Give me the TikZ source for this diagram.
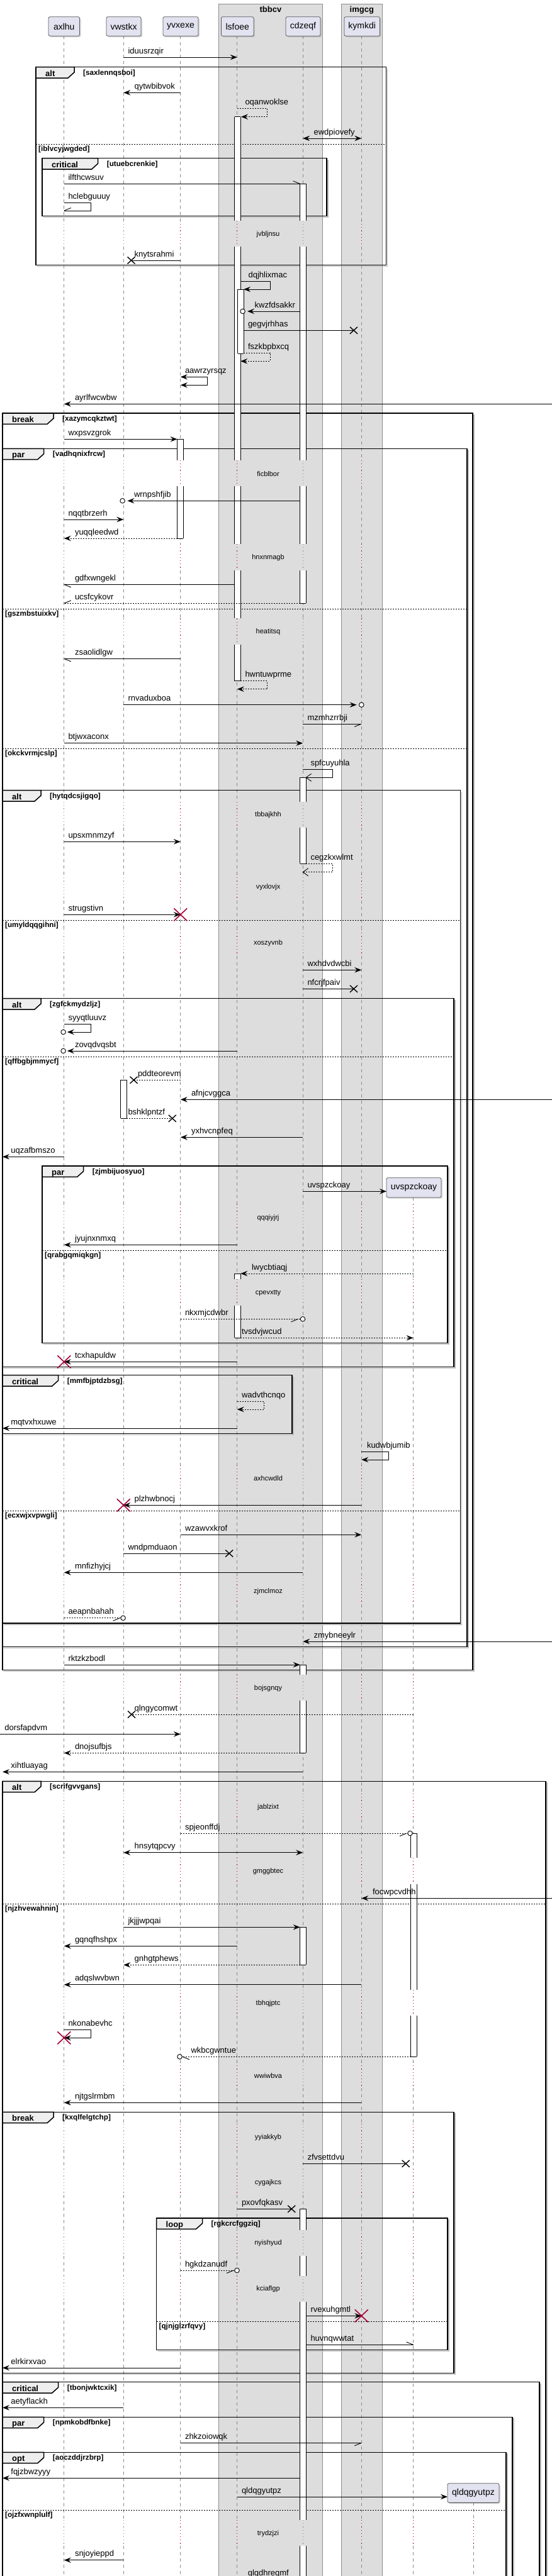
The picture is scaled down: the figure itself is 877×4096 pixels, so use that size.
\documentclass[tikz,border=0pt]{standalone}
\usepackage{fontspec}
\setmainfont{Liberation Sans}
\usetikzlibrary{arrows.meta,shadows}
\definecolor{partfill}{HTML}{E2E2F0}
\definecolor{grpfill}{HTML}{DDDDDD}
\definecolor{tabfill}{HTML}{EEEEEE}
\definecolor{crim}{HTML}{A80036}
\definecolor{lifegray}{HTML}{8A8A8A}
\newcommand\mf{\fontsize{13}{15}\selectfont}
\newcommand\dlf{\fontsize{11}{13}\selectfont}
\newcommand\pf{\fontsize{14}{16}\selectfont}
\newcommand\kindf{\fontsize{13}{15}\selectfont\bfseries}
\newcommand\guardf{\fontsize{11.7}{13}\selectfont\bfseries}
\tikzset{
  lbl/.style={font=\mf, anchor=base west, inner sep=0pt, outer sep=0pt},
  dlbl/.style={font=\dlf, anchor=center, inner sep=0pt},
  msgl/.style={line width=0.9pt, draw=black},
  retl/.style={msgl, dash pattern=on 2pt off 2pt},
  hd/.style={-{Stealth[length=11pt,width=8.5pt,inset=4pt]}},
  hdb/.style={{Stealth[length=11pt,width=8.5pt,inset=4pt]}-{Stealth[length=11pt,width=8.5pt,inset=4pt]}},
  lifel/.style={draw=lifegray, line width=0.7pt, dash pattern=on 5pt off 5pt},
  lifedot/.style={line width=0.8pt, dash pattern=on 1.2pt off 4pt},
  actl/.style={line width=0.8pt, draw=black},
  part/.style={draw=black!65, fill=partfill, rounded corners=2.5pt, line width=0.8pt, font=\pf, inner sep=0pt, minimum height=30.6pt, drop shadow={shadow xshift=2pt, shadow yshift=-2pt, opacity=0.3}},
  kindl/.style={font=\kindf, anchor=base west, inner sep=0pt},
  guardl/.style={font=\guardf, anchor=base west, inner sep=0pt},
  grptitle/.style={font=\kindf, anchor=base, inner sep=0pt},
}
\newcount\labcnt
\newcommand\lab[3]{\global\advance\labcnt by 1\relax\node[lbl] (lab\the\labcnt) at (#1,#2-6) {#3};}
\newcommand\halfu[3]{\draw[msgl] (#1,#2) -- ++(#3*11,-4.5);}
\newcommand\halfd[3]{\draw[msgl] (#1,#2) -- ++(#3*11,4.5);}
\newcommand\openhd[2]{\draw[msgl] (#1+8.5,#2-6) -- (#1,#2) -- (#1+8.5,#2+6);}
\newcommand\bx[2]{\draw[line width=1.4pt] (#1-6,#2-5.5) -- (#1+6,#2+5.5) (#1-6,#2+5.5) -- (#1+6,#2-5.5);}
\newcommand\rx[2]{\draw[crim,line width=1.6pt] (#1-10.5,#2-10) -- (#1+10.5,#2+10) (#1-10.5,#2+10) -- (#1+10.5,#2-10);}
\newcommand\cir[2]{\draw[msgl,fill=white] (#1,#2) circle[radius=3.8pt];}
\newcommand\actseg[5]{%
  \fill[white] (#1,#2) rectangle (#1+9.5,#3);
  \draw[actl] (#1,#2) -- (#1,#3) (#1+9.5,#2) -- (#1+9.5,#3);
  \ifnum#4=1 \draw[actl] (#1,#2) -- (#1+9.5,#2);\fi
  \ifnum#5=1 \draw[actl] (#1,#3) -- (#1+9.5,#3);\fi
}
\newcommand\frm[7]{%
  \draw[gray!55, line width=1.5pt] (#3+2,#2+2) -- (#3+2,#4+2) -- (#1+2,#4+2);
  \draw[black, line width=1.5pt] (#1,#2) rectangle (#3,#4);
  \draw[black, line width=1.5pt, fill=tabfill] (#1,#2) -- (#1+#6,#2) -- (#1+#6,#2+8.3) -- (#1+#6-10,#2+17.3) -- (#1,#2+17.3) -- cycle;
  \node[kindl] at (#1+15,#2+14.5) {#5};
  \node[guardl] at (#1+#6+14,#2+12.5) {[#7]};
}
\newcommand\sepl[4]{%
  \draw[black, line width=0.9pt, dash pattern=on 2pt off 2pt] (#1,#3) -- (#2,#3);
  \node[guardl] at (#1+4,#3+11) {[#4]};
}
\def\delaylist{350.8/392.3,731.7/773.3,865/906.7,983.3/1025,1275/1316,1390/1431.7,1478/1520,1915/1957,2034/2075.7,2329.5/2371,2509/2551,2663/2704,2852/2893.3,2954/2995.7,3164/3205,3279/3320.3,3377/3418,3449/3490,3546/3587,3619/3660,4007/4048}
\newcommand\lifeline[3]{%
  \xdef\lastY{#2}%
  \foreach \a/\b in \delaylist {%
    \ifdim\a pt>#2pt
      \draw[lifel] (#1,\lastY) -- (#1,\a);
      \draw[lifedot,#3] (#1,\a) -- (#1,\b);
      \xdef\lastY{\b}%
    \fi
  }%
  \draw[lifel] (#1,\lastY) -- (#1,4100);
}
\begin{document}
\begin{tikzpicture}[x=1pt,y=-1pt]
\useasboundingbox (0,0) rectangle (877,4096);
\clip (0,0) rectangle (877,4096);
\fill[white] (0,0) rectangle (877,4096);
% box groups
\draw[fill=grpfill, draw=black!45, line width=0.6pt] (347.4,6) rectangle (512.7,4120);
\draw[fill=grpfill, draw=black!45, line width=0.6pt] (542.5,6) rectangle (607.1,4120);
\node[grptitle] (g1) at (430,19.5) {tbbcv};
\node[grptitle] (g2) at (574.8,19.5) {imgcg};
% lifelines
\lifeline{101.8}{57.3}{lifegray}
\lifeline{196.3}{57.3}{lifegray}
\lifeline{286.8}{57.3}{crim}
\lifeline{376.8}{57.3}{crim}
\lifeline{481.2}{57.3}{lifegray}
\lifeline{574.3}{57.3}{crim}
\lifeline{656.6}{1904}{crim}
\lifeline{752.4}{3979.3}{crim}
% participants
\node[part, minimum width=49.5pt] (axlhu) at (101.8,42) {axlhu};
\node[part, minimum width=55pt] (vwstkx) at (196.5,42) {vwstkx};
\node[part, minimum width=56pt] (yvxexe) at (287,42) {yvxexe};
\node[part, minimum width=51.5pt] (lsfoee) at (377.2,42) {lsfoee};
\node[part, minimum width=55pt] (cdzeqf) at (481.5,42) {cdzeqf};
\node[part, minimum width=56.5pt] (kymkdi) at (575.2,42) {kymkdi};
\node[part, minimum width=87pt, minimum height=31.3pt] (uvsp) at (657.5,1888.3) {uvspzckoay};
\node[part, minimum width=82pt] (qldq) at (752,3964) {qldqgyutpz};
% frames
\frm{57}{106.7}{613.3}{421.7}{alt}{61}{saxlennqsboi}
\sepl{57}{613.3}{229.3}{iblvcyjwgded}
\frm{67}{251.7}{519}{343.3}{critical}{88.7}{utuebcrenkie}
\frm{4}{657}{751}{2655.3}{break}{81}{xazymcqkztwt}
\frm{4}{713.3}{742}{2618.3}{par}{65.7}{vadhqnixfrcw}
\sepl{4}{742}{968.3}{gszmbstuixkv}
\sepl{4}{742}{1190.3}{okckvrmjcslp}
\frm{4}{1256.7}{731.3}{2581}{alt}{61}{hytqdcsjigqo}
\sepl{4}{731.3}{1463.3}{umyldqqgihni}
\sepl{4}{731.3}{2402.3}{ecxwjxvpwgli}
\frm{4}{1587.7}{721}{2173.3}{alt}{61}{zgfckmydzljz}
\sepl{4}{721}{1680.7}{qffbgbjmmycf}
\frm{67}{1854}{711}{2135.7}{par}{65.7}{zjmbijuosyuo}
\sepl{67}{711}{1988.3}{qrabgqmiqkgn}
\frm{4}{2186.7}{464}{2279.3}{critical}{88.7}{mmfbjptdzbsg}
\frm{4}{2832.3}{866.8}{4120}{alt}{61}{scrifgvvgans}
\sepl{4}{866.8}{3027.3}{njzhvewahnin}
\frm{4}{3358.3}{721}{3773.3}{break}{81}{kxqlfelgtchp}
\frm{248.5}{3527}{711}{3736.7}{loop}{73}{rgkcrcfggziq}
\sepl{248.5}{711}{3691.3}{qjnjglzrfqvy}
\frm{4}{3787.7}{857}{4120}{critical}{88.7}{tbonjwktcxik}
\frm{4}{3843.3}{814}{4120}{par}{65.7}{npmkobdfbnke}
\frm{4}{3899.3}{804}{4120}{opt}{65.7}{aoczddjrzbrp}
\sepl{4}{804}{3991}{ojzfxwnplulf}
% activations
\actseg{372.7}{185.7}{350.8}{1}{0}
\actseg{372.7}{392.3}{731.7}{0}{0}
\actseg{372.7}{773.3}{865}{0}{0}
\actseg{372.7}{906.7}{983.3}{0}{0}
\actseg{372.7}{1025}{1082.7}{0}{1}
\actseg{377.6}{460}{562.3}{1}{1}
\actseg{476.7}{292.3}{350.8}{1}{0}
\actseg{476.7}{392.3}{731.7}{0}{0}
\actseg{476.7}{773.3}{865}{0}{0}
\actseg{476.7}{906.7}{959.3}{0}{1}
\actseg{281.6}{698.3}{731.7}{1}{0}
\actseg{281.6}{773.3}{856}{0}{1}
\actseg{476.7}{1236.3}{1275}{1}{0}
\actseg{476.7}{1316}{1373.3}{0}{1}
\actseg{191.7}{1717.3}{1778.3}{1}{1}
\actseg{372.7}{2025}{2034}{1}{0}
\actseg{372.7}{2075.7}{2127.3}{0}{1}
\actseg{476.7}{2647}{2663}{1}{0}
\actseg{476.7}{2704}{2787.3}{0}{1}
\actseg{652.6}{2915}{2954}{1}{0}
\actseg{652.6}{2995.7}{3164}{0}{0}
\actseg{652.6}{3205}{3270.3}{0}{1}
\actseg{476.7}{3064.3}{3124.3}{1}{1}
\actseg{476.7}{3512.3}{3546}{1}{0}
\actseg{476.7}{3587}{3619}{0}{0}
\actseg{476.7}{3660}{4007}{0}{0}
\actseg{476.7}{4048}{4110}{0}{0}
% messages
\draw[msgl,hd] (196.3,91) -- (376.8,91); \lab{203.5}{91}{iduusrzqir}
\draw[msgl,hd] (286.8,147.3) -- (196.3,147.3); \lab{213.6}{147.3}{qytwbibvok}
\draw[retl,hd] (376.8,172.3) -- (424.4,172.3) -- (424.4,185.7) -- (383,185.7); \lab{389.5}{172.3}{oqanwoklse}
\draw[msgl,hdb] (481.2,220) -- (574.3,220); \lab{498.6}{220}{ewdpiovefy}
\draw[msgl] (101.8,292.3) -- (476.7,292.3); \halfu{476.7}{292.3}{-1} \lab{108.5}{292.3}{ilfthcwsuv}
\draw[msgl] (101.8,322.3) -- (144,322.3) -- (144,335) -- (101.8,335); \halfu{101.8}{335}{1} \lab{108.5}{322.3}{hclebguuuy}
\draw[msgl] (286.8,414) -- (208.5,414); \bx{208.5}{414} \lab{213.6}{414}{knytsrahmi}
\draw[msgl,hd] (382.2,447.3) -- (429,447.3) -- (429,460) -- (387.1,460); \lab{394.6}{447.3}{dqjhlixmac}
\draw[msgl,hd] (476.7,495) -- (393,495); \cir{385.6}{495} \lab{404.7}{495}{kwzfdsakkr}
\draw[msgl] (387.1,525.3) -- (562,525.3); \bx{562}{525.3} \lab{394}{525.3}{gegvjrhhas}
\draw[retl,hd] (387.1,561) -- (429,561) -- (429,574.3) -- (382.2,574.3); \lab{394}{561}{fszkbpbxcq}
\draw[msgl,hdb] (286.8,599.3) -- (329,599.3) -- (329,612.3) -- (286.8,612.3); \lab{294}{599.3}{aawrzyrsqz}
\draw[msgl,hd] (877,642.3) -- (101.8,642.3); \lab{119}{642.3}{ayrlfwcwbw}
\draw[msgl,hd] (101.8,698.3) -- (281.6,698.3); \lab{108.5}{698.3}{wxpsvzgrok}
\draw[msgl,hd] (476.7,796.3) -- (202.4,796.3); \cir{194.6}{796.3} \lab{213}{796.3}{wrnpshfjib}
\draw[msgl,hd] (101.8,826) -- (196.3,826); \lab{108.5}{826}{nqqtbrzerh}
\draw[retl,hd] (281.6,856) -- (101.8,856); \lab{119}{856}{yuqqleedwd}
\draw[msgl] (372.7,929.3) -- (101.8,929.3); \halfd{101.8}{929.3}{1} \lab{119}{929.3}{gdfxwngekl}
\draw[retl] (476.7,959.3) -- (101.8,959.3); \halfu{101.8}{959.3}{1} \lab{119}{959.3}{ucsfcykovr}
\draw[msgl] (286.8,1047.3) -- (101.8,1047.3); \halfd{101.8}{1047.3}{1} \lab{119}{1047.3}{zsaolidlgw}
\draw[retl,hd] (382.2,1082.7) -- (424.4,1082.7) -- (424.4,1095.7) -- (376.8,1095.7); \lab{389.5}{1082.7}{hwntuwprme}
\draw[msgl,hd] (196.3,1120.7) -- (566.6,1120.7); \cir{574.3}{1120.7} \lab{203.5}{1120.7}{rnvaduxboa}
\draw[msgl] (481.2,1151) -- (574.3,1151); \halfd{574.3}{1151}{-1} \lab{488.5}{1151}{mzmhzrrbji}
\draw[msgl,hd] (101.8,1181.7) -- (481.2,1181.7); \lab{108.5}{1181.7}{btjwxaconx}
\draw[msgl] (481.2,1223.3) -- (528.4,1223.3) -- (528.4,1236.3) -- (486.2,1236.3); \openhd{486.2}{1236.3} \lab{493.5}{1223.3}{spfcuyuhla}
\draw[msgl,hd] (101.8,1338.3) -- (286.8,1338.3); \lab{108.5}{1338.3}{upsxmnmzyf}
\draw[retl] (486.2,1373.3) -- (528.4,1373.3) -- (528.4,1386.7) -- (481.2,1386.7); \openhd{481.2}{1386.7} \lab{493.5}{1373.3}{cegzkxwlmt}
\draw[msgl,hd] (101.8,1454.3) -- (286.8,1454.3); \rx{286.8}{1454.3} \lab{108.5}{1454.3}{strugstivn}
\draw[msgl,hd] (481.2,1542.3) -- (574.3,1542.3); \lab{488.5}{1542.3}{wxhdvdwcbi}
\draw[msgl] (481.2,1572.3) -- (562,1572.3); \bx{562}{1572.3} \lab{488.5}{1572.3}{nfcrjfpaiv}
\draw[msgl,hd] (101.8,1628.3) -- (144,1628.3) -- (144,1641) -- (106.8,1641); \cir{100.6}{1641} \lab{108.5}{1628.3}{syyqtluuvz}
\draw[msgl,hd] (376.8,1671) -- (106.8,1671); \cir{100.6}{1671} \lab{119}{1671}{zovqdvqsbt}
\draw[retl] (286.8,1717.3) -- (212.5,1717.3); \bx{212.5}{1717.3} \lab{219}{1717.3}{pddteorevm}
\draw[msgl,hd] (877,1748.3) -- (286.8,1748.3); \lab{304}{1748.3}{afnjcvggca}
\draw[retl] (201.2,1778.3) -- (273.8,1778.3); \bx{273.8}{1778.3} \lab{203.5}{1778.3}{bshklpntzf}
\draw[msgl,hd] (481.2,1808.3) -- (286.8,1808.3); \lab{304}{1808.3}{yxhvcnpfeq}
\draw[msgl,hd] (101.8,1839.3) -- (4,1839.3); \lab{17.4}{1839.3}{uqzafbmszo}
\draw[msgl,hd] (481.2,1894.3) -- (614,1894.3); \lab{488.5}{1894.3}{uvspzckoay}
\draw[msgl,hd] (376.8,1979.3) -- (101.8,1979.3); \lab{119}{1979.3}{jyujnxnmxq}
\draw[retl,hd] (656.6,2025) -- (382.2,2025); \lab{400}{2025}{lwycbtiaqj}
\draw[retl] (286.8,2097.3) -- (477,2097.3); \halfd{473.5}{2097.3}{-1} \cir{481}{2097.3} \lab{294}{2097.3}{nkxmjcdwbr}
\draw[retl,hd] (382.2,2127.3) -- (656.6,2127.3); \lab{384}{2127.3}{tvsdvjwcud}
\draw[msgl,hd] (376.8,2165.3) -- (101.8,2165.3); \rx{101.8}{2165.3} \lab{119}{2165.3}{tcxhapuldw}
\draw[retl,hd] (376.8,2228.3) -- (419.3,2228.3) -- (419.3,2241) -- (376.8,2241); \lab{384}{2228.3}{wadvthcnqo}
\draw[msgl,hd] (376.8,2271) -- (4,2271); \lab{17.4}{2271}{mqtvxhxuwe}
\draw[msgl,hd] (574.3,2308.3) -- (617.2,2308.3) -- (617.2,2321) -- (574.3,2321); \lab{583}{2308.3}{kudwbjumib}
\draw[msgl,hd] (574.3,2393.3) -- (196.3,2393.3); \rx{196.3}{2393.3} \lab{213.6}{2393.3}{plzhwbnocj}
\draw[msgl,hd] (286.8,2440.3) -- (574.3,2440.3); \lab{294}{2440.3}{wzawvxkrof}
\draw[msgl] (196.3,2470) -- (364.2,2470); \bx{364.2}{2470} \lab{203.5}{2470}{wndpmduaon}
\draw[msgl,hd] (481.2,2500.3) -- (101.8,2500.3); \lab{119}{2500.3}{mnfizhyjcj}
\draw[retl] (101.8,2572.7) -- (192,2572.7); \halfd{190.5}{2572.7}{-1} \cir{195.6}{2572.7} \lab{108.5}{2572.7}{aeapnbahah}
\draw[msgl,hd] (877,2610) -- (481.2,2610); \lab{498.6}{2610}{zmybneeylr}
\draw[msgl,hd] (101.8,2647) -- (476.7,2647); \lab{108.5}{2647}{rktzkzbodl}
\draw[retl] (656.6,2726) -- (209,2726); \bx{209}{2726} \lab{213.6}{2726}{qlngycomwt}
\draw[msgl,hd] (0,2757.3) -- (286.8,2757.3); \lab{7.3}{2757.3}{dorsfapdvm}
\draw[retl,hd] (476.7,2787.3) -- (101.8,2787.3); \lab{119}{2787.3}{dnojsufbjs}
\draw[msgl,hd] (481.2,2817.3) -- (4,2817.3); \lab{17.4}{2817.3}{xihtluayag}
\draw[retl] (286.8,2915) -- (648,2915); \halfd{646}{2915}{-1} \cir{651.5}{2915} \lab{294}{2915}{spjeonffdj}
\draw[msgl,hdb] (196.3,2945.7) -- (481.2,2945.7); \lab{213.6}{2945.7}{hnsytqpcvy}
\draw[msgl,hd] (877,3018.3) -- (574.3,3018.3); \lab{592}{3018.3}{focwpcvdhh}
\draw[msgl,hd] (196.3,3064.3) -- (476.7,3064.3); \lab{203.5}{3064.3}{jkjjjwpqai}
\draw[msgl,hd] (376.8,3094.3) -- (101.8,3094.3); \lab{119}{3094.3}{gqnqfhshpx}
\draw[retl,hd] (476.7,3124.3) -- (196.3,3124.3); \lab{213.6}{3124.3}{gnhgtphews}
\draw[msgl,hd] (574.3,3155.7) -- (101.8,3155.7); \lab{119}{3155.7}{adqslwvbwn}
\draw[msgl,hd] (101.8,3227.3) -- (144,3227.3) -- (144,3240.3) -- (101.8,3240.3); \rx{101.8}{3240.3} \lab{108.5}{3227.3}{nkonabevhc}
\draw[retl] (652.6,3270.3) -- (289.5,3270.3); \halfd{290}{3270.3}{1} \cir{285.5}{3270.3} \lab{303.5}{3270.3}{wkbcgwntue}
\draw[msgl,hd] (574.3,3343.3) -- (101.8,3343.3); \lab{119}{3343.3}{njtgslrmbm}
\draw[msgl] (481.2,3440.3) -- (644.7,3440.3); \bx{644.7}{3440.3} \lab{488.5}{3440.3}{zfvsettdvu}
\draw[msgl] (376.8,3512.3) -- (463.2,3512.3); \bx{463.2}{3512.3} \lab{384}{3512.3}{pxovfqkasv}
\draw[retl] (286.8,3610) -- (372.5,3610); \halfd{371}{3610}{-1} \cir{376.5}{3610} \lab{294}{3610}{hgkdzanudf}
\draw[msgl,hd] (486.2,3682.3) -- (574.3,3682.3); \rx{574.3}{3682.3} \lab{493.5}{3682.3}{rvexuhgmtl}
\draw[msgl] (486.2,3728.3) -- (656.6,3728.3); \halfu{656.6}{3728.3}{-1} \lab{493.5}{3728.3}{huvnqwwtat}
\draw[msgl,hd] (286.8,3765) -- (4,3765); \lab{17.4}{3765}{elrkirxvao}
\draw[msgl,hd] (196.3,3828.3) -- (4,3828.3); \lab{17.4}{3828.3}{aetyflackh}
\draw[msgl] (286.8,3884.3) -- (574.3,3884.3); \halfd{574.3}{3884.3}{-1} \lab{294}{3884.3}{zhkzoiowqk}
\draw[msgl,hd] (476.7,3940.3) -- (4,3940.3); \lab{17.4}{3940.3}{fqjzbwzyyy}
\draw[msgl,hd] (376.8,3970) -- (711,3970); \lab{384}{3970}{qldqgyutpz}
\draw[msgl,hd] (196.3,4070.7) -- (101.8,4070.7); \lab{119}{4070.7}{snjoyieppd}
\draw[msgl,hd] (476.7,4101) -- (376.8,4101); \lab{393.8}{4101}{glqdhreqmf}
% delay labels
\foreach \t/\y in {jvbljnsu/372.3, ficblbor/753.3, hnxnmagb/886.7, heatitsq/1005, tbbajkhh/1296, vyxlovjx/1411, xoszyvnb/1499.3, qqqiyjrj/1936.7, cpevxtty/2055.7, axhcwdld/2351, zjmclmoz/2530.7, bojsgnqy/2684.3, jablzixt/2873.3, gmggbtec/2975.7, tbhqjptc/3185.3, wwiwbva/3300.3, yyiakkyb/3398.3, cygajkcs/3470.3, nyishyud/3567, kciaflgp/3640, trydzjzi/4028.3}
  {\node[dlbl] (dl\t) at (426,\y) {\t};}
\end{tikzpicture}
\end{document}
